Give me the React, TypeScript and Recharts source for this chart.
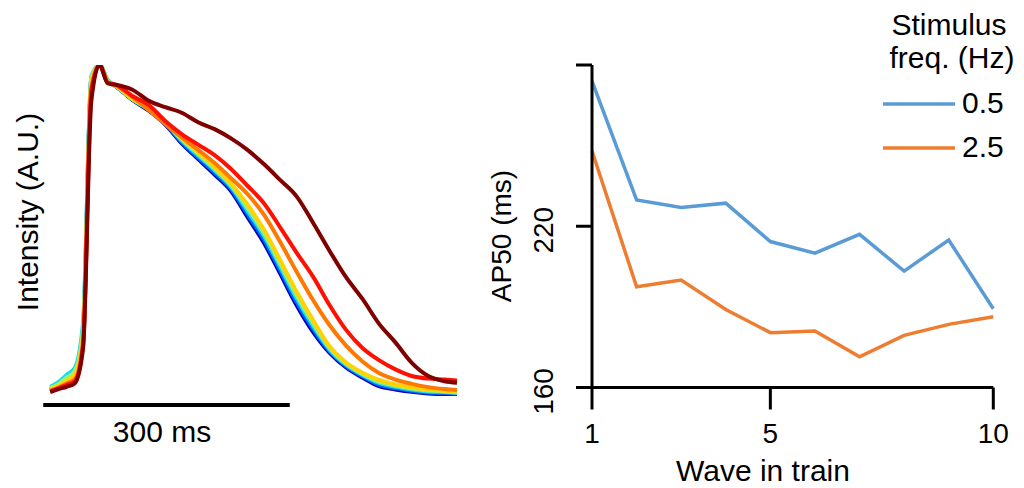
import React from "react";
import { LineChart, Line, XAxis, YAxis, ReferenceLine, Legend } from "recharts";

// left panel: optical AP traces, time in ms, normalised intensity
const traceTimes = [0, 10, 20, 30, 40, 50, 60, 70, 80, 100, 120, 140, 160, 180, 200, 220, 240, 260, 280, 300, 320, 340, 360, 380, 400, 420, 440, 460, 480, 495];

const traceBlue = [0.012, 0.022, 0.035, 0.055, 0.18, 0.95, 1, 0.952, 0.935, 0.894, 0.861, 0.819, 0.762, 0.714, 0.667, 0.617, 0.538, 0.46, 0.365, 0.269, 0.188, 0.125, 0.081, 0.05, 0.024, 0.014, 0.007, 0.002, 0, 0];
const traceMidBlue = [0.015, 0.028, 0.045, 0.065, 0.2, 0.96, 1, 0.952, 0.935, 0.895, 0.863, 0.821, 0.766, 0.719, 0.673, 0.623, 0.547, 0.47, 0.375, 0.279, 0.197, 0.13, 0.085, 0.054, 0.029, 0.018, 0.01, 0.005, 0.003, 0.002];
const traceCyan = [0.022, 0.036, 0.058, 0.08, 0.22, 0.965, 1, 0.955, 0.936, 0.896, 0.865, 0.824, 0.77, 0.725, 0.68, 0.63, 0.557, 0.481, 0.386, 0.29, 0.206, 0.135, 0.089, 0.058, 0.034, 0.022, 0.014, 0.008, 0.006, 0.004];
const traceGreen = [0.018, 0.03, 0.05, 0.07, 0.2, 0.96, 1, 0.952, 0.936, 0.896, 0.866, 0.826, 0.774, 0.73, 0.685, 0.635, 0.566, 0.49, 0.396, 0.3, 0.215, 0.14, 0.092, 0.061, 0.038, 0.026, 0.017, 0.011, 0.008, 0.005];
const traceYellow = [0.014, 0.025, 0.04, 0.06, 0.18, 0.95, 1, 0.95, 0.937, 0.897, 0.868, 0.828, 0.778, 0.735, 0.69, 0.64, 0.576, 0.5, 0.406, 0.31, 0.224, 0.145, 0.096, 0.065, 0.043, 0.029, 0.02, 0.014, 0.01, 0.007];
const traceOrange = [0.01, 0.02, 0.032, 0.045, 0.16, 0.93, 1, 0.948, 0.938, 0.903, 0.863, 0.821, 0.78, 0.742, 0.702, 0.656, 0.608, 0.545, 0.461, 0.371, 0.285, 0.209, 0.147, 0.099, 0.064, 0.044, 0.031, 0.021, 0.015, 0.012];
const traceRed = [0.008, 0.018, 0.028, 0.04, 0.15, 0.92, 1, 0.946, 0.94, 0.906, 0.878, 0.83, 0.79, 0.758, 0.726, 0.684, 0.633, 0.58, 0.506, 0.429, 0.356, 0.27, 0.195, 0.14, 0.103, 0.075, 0.055, 0.047, 0.044, 0.041];
const traceDarkRed = [0.006, 0.015, 0.022, 0.033, 0.14, 0.89, 1, 0.944, 0.94, 0.925, 0.891, 0.872, 0.855, 0.826, 0.805, 0.777, 0.742, 0.699, 0.65, 0.6, 0.52, 0.435, 0.355, 0.289, 0.214, 0.157, 0.095, 0.055, 0.039, 0.034];

const traceSeries = [
  { key: "blue", values: traceBlue, color: "#0000b4" },
  { key: "midBlue", values: traceMidBlue, color: "#0064ff" },
  { key: "cyan", values: traceCyan, color: "#10dcf0" },
  { key: "green", values: traceGreen, color: "#9cf07a" },
  { key: "yellow", values: traceYellow, color: "#ffd200" },
  { key: "orange", values: traceOrange, color: "#ff7800" },
  { key: "red", values: traceRed, color: "#ff1000" },
  { key: "darkRed", values: traceDarkRed, color: "#800000" },
];

// right panel: AP50 per wave in a train
const waves = [1, 2, 3, 4, 5, 6, 7, 8, 9, 10];
const ap50Slow = [274, 229.8, 227, 228.6, 214.3, 210, 217, 203.3, 214.9, 189.3];
const ap50Fast = [248, 197.5, 200, 189, 180.4, 181, 171.4, 179.4, 183.5, 186.3];
const waveTicks = [1, 5, 10];
const apTicks = [160, 220, 280];

const traceRows = traceTimes.map((t, i) => {
  const row: Record<string, number> = { t };
  traceSeries.forEach((s) => (row[s.key] = s.values[i]));
  return row;
});

const apRows = waves.map((w, i) => ({ wave: w, slow: ap50Slow[i], fast: ap50Fast[i] }));

const FONT = "'Liberation Sans', Arial, sans-serif";
const axisStroke = { stroke: "#000", strokeWidth: 3 };

const IntensityLabel = () => (
  <text transform="translate(38,212) rotate(-90)" textAnchor="middle" fontSize={30} fontFamily={FONT} fill="#000">
    Intensity (A.U.)
  </text>
);

const ScaleBarLabel = () => (
  <text x={162} y={442} textAnchor="middle" fontSize={30} fontFamily={FONT} fill="#000">
    300 ms
  </text>
);

const XTick = ({ x, y, payload }: any) => (
  <text x={x} y={y + 31} textAnchor="middle" fontSize={28} fontFamily={FONT} fill="#000">
    {payload.value}
  </text>
);

const YTick = ({ x, y, payload }: any) => {
  if (payload.value === 280) return null;
  return (
    <text transform={`translate(${x - 21},${y + 4}) rotate(-90)`} textAnchor="middle" fontSize={28} fontFamily={FONT} fill="#000">
      {payload.value}
    </text>
  );
};

const WaveLabel = () => (
  <text x={293} y={481} textAnchor="middle" fontSize={30} fontFamily={FONT} fill="#000">
    Wave in train
  </text>
);

const ApLabel = () => (
  <text transform="translate(41,236) rotate(-90)" textAnchor="middle" fontSize={28} fontFamily={FONT} fill="#000">
    AP50 (ms)
  </text>
);

const FreqLegend = () => (
  <svg width={554} height={170} style={{ fontFamily: FONT }}>
    <text x={479} y={35} textAnchor="middle" fontSize={30} fill="#000">Stimulus</text>
    <text x={482} y={68} textAnchor="middle" fontSize={30} fill="#000">freq. (Hz)</text>
    <line x1={413} x2={485} y1={104} y2={104} stroke="#5b9bd5" strokeWidth={3.5} />
    <text x={492} y={113} fontSize={30} fill="#000">0.5</text>
    <line x1={413} x2={485} y1={148} y2={148} stroke="#ed7d31" strokeWidth={3.5} />
    <text x={492} y={157} fontSize={30} fill="#000">2.5</text>
  </svg>
);

export default function App() {
  return (
    <div style={{ position: "absolute", left: 0, top: 0, width: 1024, height: 488, background: "#fff", fontFamily: FONT }}>
      <div style={{ position: "absolute", left: 0, top: 0 }}>
        <LineChart width={470} height={488} data={traceRows} margin={{ top: 65, right: 13, bottom: 77.5, left: 0 }}>
          <XAxis type="number" dataKey="t" domain={[-10, 495]} allowDataOverflow hide />
          <YAxis
            type="number"
            domain={[-0.05, 1]}
            allowDataOverflow
            width={42}
            tick={false}
            axisLine={false}
            tickLine={false}
            label={<IntensityLabel />}
          />
          <ReferenceLine
            segment={[
              { x: -8.5, y: -0.0334 },
              { x: 291.5, y: -0.0334 },
            ]}
            stroke="#000"
            strokeWidth={4}
            label={<ScaleBarLabel />}
          />
          {traceSeries.map((s) => (
            <Line
              key={s.key}
              type="monotone"
              dataKey={s.key}
              stroke={s.color}
              strokeWidth={4}
              strokeLinejoin="round"
              dot={false}
              activeDot={false}
              isAnimationActive={false}
            />
          ))}
        </LineChart>
      </div>
      <div style={{ position: "absolute", left: 470, top: 0 }}>
        <LineChart width={554} height={488} data={apRows} margin={{ top: 65, right: 30.7, bottom: 0, left: 0 }}>
          <XAxis
            type="number"
            dataKey="wave"
            domain={[1, 10]}
            ticks={waveTicks}
            height={100.5}
            axisLine={axisStroke}
            tickLine={axisStroke}
            tickSize={22}
            tick={<XTick />}
            label={<WaveLabel />}
          />
          <YAxis
            type="number"
            domain={[160, 280]}
            ticks={apTicks}
            width={122}
            axisLine={axisStroke}
            tickLine={axisStroke}
            tickSize={16}
            tick={<YTick />}
            label={<ApLabel />}
          />
          <Legend layout="vertical" align="center" verticalAlign="middle" wrapperStyle={{ top: 0, left: 0, width: 554, height: 170 }} content={<FreqLegend />} />
          <Line type="linear" dataKey="slow" name="0.5" stroke="#5b9bd5" strokeWidth={3.5} dot={false} isAnimationActive={false} />
          <Line type="linear" dataKey="fast" name="2.5" stroke="#ed7d31" strokeWidth={3.5} dot={false} isAnimationActive={false} />
        </LineChart>
      </div>
    </div>
  );
}
